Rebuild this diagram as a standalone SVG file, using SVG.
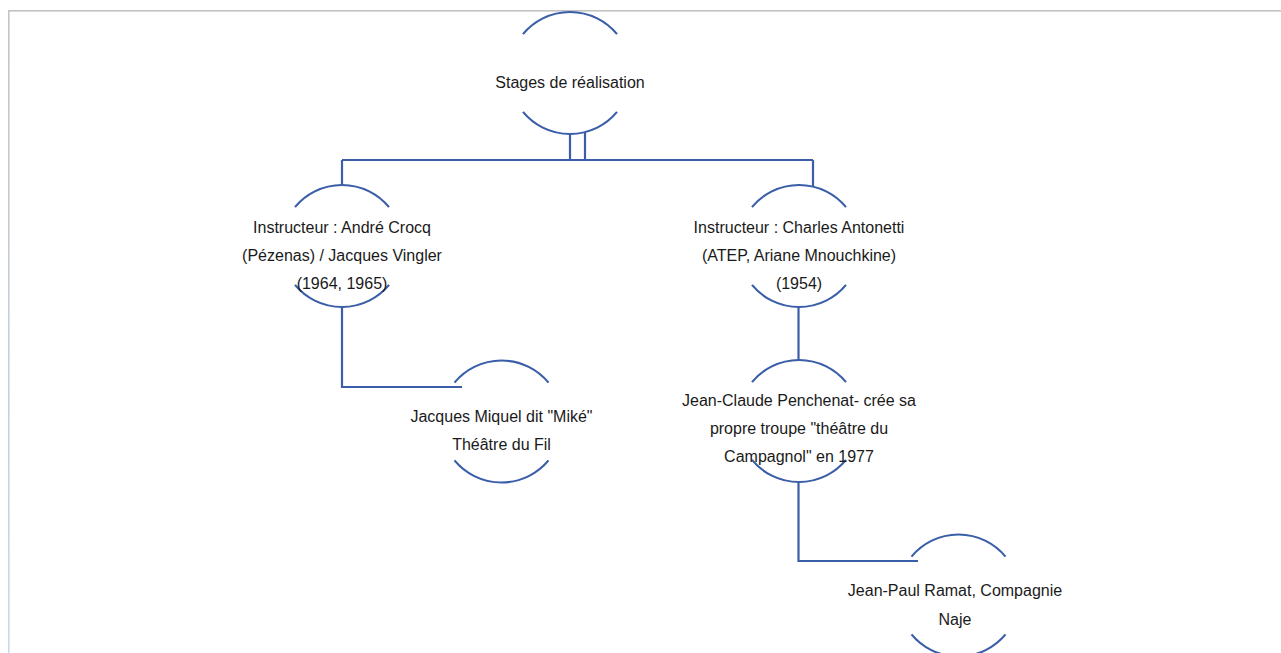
<svg xmlns="http://www.w3.org/2000/svg" width="1281" height="653" viewBox="0 0 1281 653">
<defs>
<linearGradient id="lb" gradientUnits="userSpaceOnUse" x1="0" y1="10" x2="0" y2="653">
<stop offset="0" stop-color="#c4c4c4"/>
<stop offset="1" stop-color="#c6daee"/>
</linearGradient>
<style>
.arc{fill:none;stroke:#3a5ea8;stroke-width:2.2}
.con{fill:none;stroke:#3a5ea8;stroke-width:2.2}
text{font-family:"Liberation Sans",Arial,sans-serif;font-size:16px;fill:#1a1a1a;text-anchor:middle}
</style>
</defs>
<rect width="1281" height="653" fill="#ffffff"/>
<rect x="8" y="10" width="1273" height="1.6" fill="#c2c2c2"/>
<rect x="8" y="10" width="1.6" height="643" fill="url(#lb)"/>
<g id="connectors">
<path class="con" d="M570 134V160M585 132V160M342 160H813M342 160V185M813 160V187"/>
<path class="con" d="M342 307V387H462"/>
<path class="con" d="M798.5 307V360"/>
<path class="con" d="M798.5 482V561H918"/>
</g>
<g id="node-stages">
<path class="arc" d="M523 34.1A61 61 0 0 1 617 34.1M523 111.9A61 61 0 0 0 617 111.9"/>
<text x="570" y="88">Stages de réalisation</text>
</g>
<g id="node-crocq">
<path class="arc" d="M295 207.1A61 61 0 0 1 389 207.1M295 284.9A61 61 0 0 0 389 284.9"/>
<text x="342" y="233">Instructeur : André Crocq</text>
<text x="342" y="261">(Pézenas) / Jacques Vingler</text>
<text x="342" y="289">(1964, 1965)</text>
</g>
<g id="node-antonetti">
<path class="arc" d="M752 207.1A61 61 0 0 1 846 207.1M752 284.9A61 61 0 0 0 846 284.9"/>
<text x="799" y="233">Instructeur : Charles Antonetti</text>
<text x="799" y="261">(ATEP, Ariane Mnouchkine)</text>
<text x="799" y="289">(1954)</text>
</g>
<g id="node-miquel">
<path class="arc" d="M454.5 382.6A61 61 0 0 1 548.5 382.6M454.5 460.4A61 61 0 0 0 548.5 460.4"/>
<text x="501.5" y="422">Jacques Miquel dit "Miké"</text>
<text x="501.5" y="450">Théâtre du Fil</text>
</g>
<g id="node-penchenat">
<path class="arc" d="M752 382.1A61 61 0 0 1 846 382.1M752 459.9A61 61 0 0 0 846 459.9"/>
<text x="799" y="406">Jean-Claude Penchenat- crée sa</text>
<text x="799" y="434">propre troupe "théâtre du</text>
<text x="799" y="462">Campagnol" en 1977</text>
</g>
<g id="node-ramat">
<path class="arc" d="M911.5 556.6A61 61 0 0 1 1005.5 556.6M911.5 634.4A61 61 0 0 0 1005.5 634.4"/>
<text x="955" y="596">Jean-Paul Ramat, Compagnie</text>
<text x="955" y="625">Naje</text>
</g>
</svg>
